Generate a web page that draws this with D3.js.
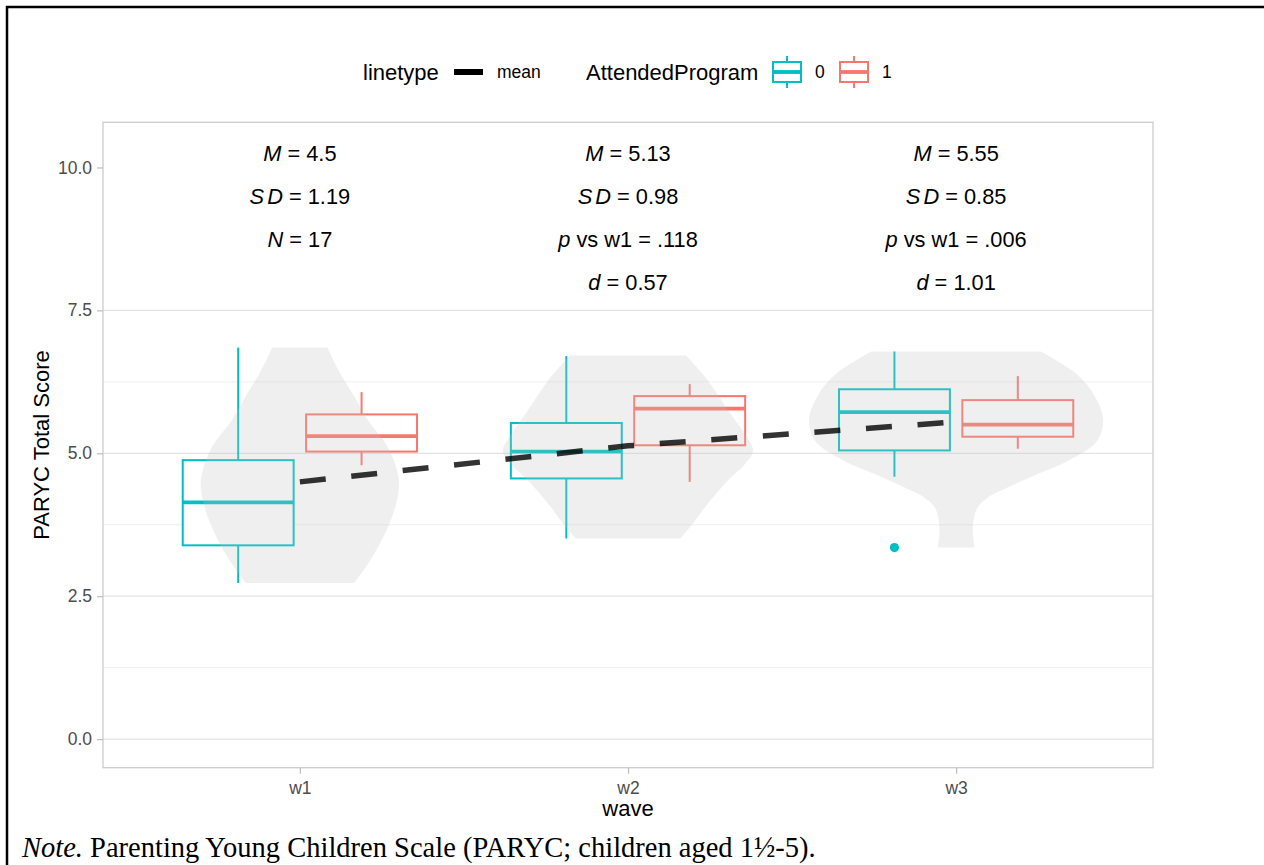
<!DOCTYPE html>
<html>
<head>
<meta charset="utf-8">
<script src="https://cdn.jsdelivr.net/npm/d3@7"></script>
<style>
  body { margin: 0; background: #fff; }
  svg { display: block; }
</style>
</head>
<body>
<div id="chart"></div>
<script>
// ---- data ----
const waves = ['w1', 'w2', 'w3'];
const groups = ['0', '1'];
const groupColors = ['#00BFC4', '#F8766D'];

// box stats per wave: [lower whisker, q1, median, q3, upper whisker]
const boxGroup0 = [
  [2.73, 3.39, 4.14, 4.88, 6.85],
  [3.51, 4.56, 5.03, 5.53, 6.70],
  [4.59, 5.05, 5.72, 6.12, 6.78],
];
const boxGroup1 = [
  [4.79, 5.03, 5.30, 5.68, 6.07],
  [4.50, 5.14, 5.78, 6.00, 6.21],
  [5.08, 5.29, 5.50, 5.93, 6.35],
];
// outliers: [wave index, group index, value]
const outliers = [[2, 0, 3.35]];

// wave means for the dashed line
const waveMeans = [4.5, 5.13, 5.55];

// violin outlines: [value, half width in category units]
const violinW1 = [[6.85, 0.084], [6.45, 0.118], [6.0, 0.165], [5.6, 0.205], [5.11, 0.268], [4.7, 0.296], [4.4, 0.302], [3.89, 0.281], [3.36, 0.238], [3.0, 0.20], [2.73, 0.165]];
const violinW2 = [[6.71, 0.177], [6.27, 0.244], [5.70, 0.311], [5.3, 0.36], [5.05, 0.381], [4.8, 0.355], [4.53, 0.305], [4.06, 0.235], [3.75, 0.195], [3.51, 0.159]];
const violinW3 = [[6.78, 0.259], [6.39, 0.366], [6.04, 0.418], [5.60, 0.448], [5.22, 0.430], [4.87, 0.342], [4.64, 0.25], [4.41, 0.16], [4.24, 0.10], [4.05, 0.065], [3.83, 0.053], [3.6, 0.051], [3.35, 0.056]];

// annotation text, one entry per wave; each line is a list of [text, italic]
const annotY = [10.25, 9.5, 8.75, 8.0];
const annotW1 = [[['M', 1], [' = 4.5', 0]], [['S', 1], ['D', 1, 3], [' = 1.19', 0]], [['N', 1], [' = 17', 0]]];
const annotW2 = [[['M', 1], [' = 5.13', 0]], [['S', 1], ['D', 1, 3], [' = 0.98', 0]], [['p', 1], [' vs w1 = .118', 0]], [['d', 1], [' = 0.57', 0]]];
const annotW3 = [[['M', 1], [' = 5.55', 0]], [['S', 1], ['D', 1, 3], [' = 0.85', 0]], [['p', 1], [' vs w1 = .006', 0]], [['d', 1], [' = 1.01', 0]]];

const yMajor = [0, 2.5, 5, 7.5, 10];
const yMinor = [1.25, 3.75, 6.25, 8.75];

// ---- layout ----
const W = 1264, H = 865;
const panel = { left: 103, right: 1153, top: 122.3, bottom: 767.7 };
const font = 'Liberation Sans, Arial, Helvetica, sans-serif';

const svg = d3.select('#chart').append('svg')
  .attr('width', W).attr('height', H)
  .style('background', '#fff');

const x = d3.scalePoint().domain(waves).range([panel.left, panel.right]).padding(0.6);
const y = d3.scaleLinear().domain([-0.5, 10.79]).range([panel.bottom, panel.top]);
const step = x.step();
const dodge = 0.188 * step;
const boxW = 0.338 * step;

// frame of the page crop
svg.append('line').attr('x1', 6).attr('x2', W).attr('y1', 7).attr('y2', 7)
  .attr('stroke', '#000').attr('stroke-width', 2.5);
svg.append('line').attr('x1', 7).attr('x2', 7).attr('y1', 6).attr('y2', H)
  .attr('stroke', '#000').attr('stroke-width', 2.5);

// grid
const grid = svg.append('g');
grid.selectAll('.minor').data(yMinor).enter().append('line')
  .attr('x1', panel.left).attr('x2', panel.right)
  .attr('y1', d => y(d)).attr('y2', d => y(d))
  .attr('stroke', '#ececec').attr('stroke-width', 0.8);
grid.selectAll('.major').data(yMajor).enter().append('line')
  .attr('x1', panel.left).attr('x2', panel.right)
  .attr('y1', d => y(d)).attr('y2', d => y(d))
  .attr('stroke', '#e3e3e3').attr('stroke-width', 1.2);
// white block behind the annotations hides the upper grid
svg.append('rect')
  .attr('x', panel.left).attr('y', panel.top)
  .attr('width', panel.right - panel.left).attr('height', y(7.6) - panel.top)
  .attr('fill', '#fff');

// boxplots
const boxData = [];
[boxGroup0, boxGroup1].forEach((rows, gi) => {
  rows.forEach((s, wi) => boxData.push({ wave: waves[wi], gi, s }));
});
const boxes = svg.append('g').selectAll('g').data(boxData).enter().append('g')
  .attr('stroke', d => groupColors[d.gi]);
const cx = d => x(d.wave) + (d.gi === 0 ? -dodge : dodge);
boxes.append('line').attr('x1', cx).attr('x2', cx)
  .attr('y1', d => y(d.s[0])).attr('y2', d => y(d.s[1])).attr('stroke-width', 2);
boxes.append('line').attr('x1', cx).attr('x2', cx)
  .attr('y1', d => y(d.s[3])).attr('y2', d => y(d.s[4])).attr('stroke-width', 2);
boxes.append('rect')
  .attr('x', d => cx(d) - boxW / 2).attr('width', boxW)
  .attr('y', d => y(d.s[3])).attr('height', d => y(d.s[1]) - y(d.s[3]))
  .attr('fill', '#fff').attr('stroke-width', 2);
boxes.append('line')
  .attr('x1', d => cx(d) - boxW / 2).attr('x2', d => cx(d) + boxW / 2)
  .attr('y1', d => y(d.s[2])).attr('y2', d => y(d.s[2]))
  .attr('stroke-width', 3.8);

svg.append('g').selectAll('circle').data(outliers).enter().append('circle')
  .attr('cx', d => x(waves[d[0]]) + (d[1] === 0 ? -dodge : dodge))
  .attr('cy', d => y(d[2])).attr('r', 4.6)
  .attr('fill', d => groupColors[d[1]]);

// violins drawn over the boxes, translucent grey
const violins = [violinW1, violinW2, violinW3];
svg.append('g').selectAll('path').data(violins).enter().append('path')
  .attr('d', (v, i) => d3.area()
    .curve(d3.curveCatmullRom.alpha(0.5))
    .y(d => y(d[0]))
    .x0(d => x(waves[i]) - d[1] * step)
    .x1(d => x(waves[i]) + d[1] * step)(v))
  .attr('fill', '#bebebe').attr('fill-opacity', 0.25);

// dashed mean line
svg.append('path')
  .datum(waveMeans)
  .attr('d', d3.line().x((d, i) => x(waves[i])).y(d => y(d)))
  .attr('fill', 'none').attr('stroke', '#000').attr('stroke-opacity', 0.8)
  .attr('stroke-width', 5.5).attr('stroke-dasharray', '26 25.7');

// annotations
[annotW1, annotW2, annotW3].forEach((lines, wi) => {
  lines.forEach((parts, li) => {
    const t = svg.append('text')
      .attr('x', x(waves[wi])).attr('y', y(annotY[li]))
      .attr('text-anchor', 'middle').attr('dominant-baseline', 'central')
      .attr('font-family', font).attr('font-size', 21.8).attr('fill', '#000')
      .style('white-space', 'pre');
    parts.forEach(p => {
      const ts = t.append('tspan').text(p[0]);
      if (p[1]) ts.attr('font-style', 'italic');
      if (p[2]) ts.attr('dx', p[2]);
    });
  });
});

// panel border
svg.append('rect')
  .attr('x', panel.left).attr('y', panel.top)
  .attr('width', panel.right - panel.left).attr('height', panel.bottom - panel.top)
  .attr('fill', 'none').attr('stroke', '#cccccc').attr('stroke-width', 1.3);

// axes
const yAxis = svg.append('g').attr('transform', `translate(${panel.left},0)`)
  .call(d3.axisLeft(y).tickValues(yMajor).tickFormat(d3.format('.1f')).tickSize(6).tickPadding(5));
const xAxis = svg.append('g').attr('transform', `translate(0,${panel.bottom})`)
  .call(d3.axisBottom(x).tickSize(6).tickPadding(8));
[yAxis, xAxis].forEach(a => {
  a.select('.domain').remove();
  a.selectAll('.tick line').attr('stroke', '#bdbdbd').attr('stroke-width', 1.2);
  a.selectAll('.tick text').attr('fill', '#4d4d4d')
    .attr('font-family', font).attr('font-size', 17.5);
});

svg.append('text').attr('x', x('w2')).attr('y', 816)
  .attr('text-anchor', 'middle').attr('font-family', font).attr('font-size', 22)
  .text('wave');
svg.append('text')
  .attr('transform', `translate(41,${(panel.top + panel.bottom) / 2}) rotate(-90)`)
  .attr('text-anchor', 'middle').attr('dominant-baseline', 'central')
  .attr('font-family', font).attr('font-size', 22)
  .text('PARYC Total Score');

// legend
const legendY = 72;
const legend = svg.append('g').attr('font-family', font);
legend.append('text').attr('x', 363).attr('y', legendY).attr('dominant-baseline', 'central')
  .attr('font-size', 22).text('linetype');
legend.append('line').attr('x1', 454).attr('x2', 483).attr('y1', legendY).attr('y2', legendY)
  .attr('stroke', '#000').attr('stroke-width', 6);
legend.append('text').attr('x', 497).attr('y', legendY).attr('dominant-baseline', 'central')
  .attr('font-size', 17.5).text('mean');
legend.append('text').attr('x', 586).attr('y', legendY).attr('dominant-baseline', 'central')
  .attr('font-size', 22).text('AttendedProgram');

const keyX = [773, 840];
groups.forEach((g, gi) => {
  const k = legend.append('g').attr('stroke', groupColors[gi]);
  const kx = keyX[gi], kw = 28, mid = kx + kw / 2;
  k.append('line').attr('x1', mid).attr('x2', mid).attr('y1', legendY - 16).attr('y2', legendY - 10).attr('stroke-width', 2);
  k.append('line').attr('x1', mid).attr('x2', mid).attr('y1', legendY + 10).attr('y2', legendY + 16).attr('stroke-width', 2);
  k.append('rect').attr('x', kx).attr('y', legendY - 10).attr('width', kw).attr('height', 20)
    .attr('fill', '#fff').attr('stroke-width', 2);
  k.append('line').attr('x1', kx).attr('x2', kx + kw).attr('y1', legendY).attr('y2', legendY).attr('stroke-width', 3.8);
  legend.append('text').attr('x', kx + kw + 14).attr('y', legendY).attr('dominant-baseline', 'central')
    .attr('font-size', 17.5).text(g);
});

// note below the figure
const note = svg.append('text').attr('x', 22).attr('y', 857)
  .attr('font-family', 'Liberation Serif, Times New Roman, serif').attr('font-size', 28.5).attr('fill', '#000')
  .style('white-space', 'pre');
note.append('tspan').attr('font-style', 'italic').text('Note.');
note.append('tspan').text(' Parenting Young Children Scale (PARYC; children aged 1½-5).');
</script>
</body>
</html>
